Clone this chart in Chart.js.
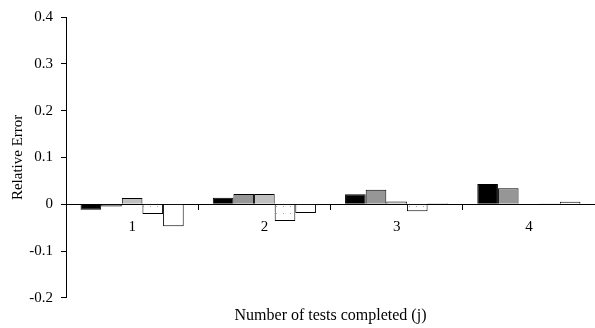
<!DOCTYPE html>
<html>
<head>
<meta charset="utf-8">
<script src="https://cdn.jsdelivr.net/npm/chart.js@4/dist/chart.umd.min.js"></script>
<style>
  html, body { margin: 0; padding: 0; background: #fff; }
  #wrap { width: 595px; height: 328px; position: relative; }
</style>
</head>
<body>
<div id="wrap"><canvas id="chart"></canvas></div>
<script>
// Number of tests completed (j)
const categories = ['1', '2', '3', '4'];

// Relative error of each estimator after j tests
const seriesBlack     = [-0.012, 0.014, 0.021, 0.043];
const seriesDarkGrey  = [-0.005, 0.022, 0.031, 0.034];
const seriesLightGrey = [0.013, 0.022, 0.006, 0.001];
const seriesDotted    = [-0.021, -0.036, -0.015, 0.0005];
const seriesWhite     = [-0.047, -0.019, 0.002, 0.005];

const seriesNames = ['Series 1', 'Series 2', 'Series 3', 'Series 4', 'Series 5'];

// Y axis tick values
const yTicks = [-0.2, -0.1, 0, 0.1, 0.2, 0.3, 0.4];

// Sparse grey dot fill for the fourth series
function dottedPattern() {
  const c = document.createElement('canvas');
  c.width = 7; c.height = 7;
  const g = c.getContext('2d');
  g.fillStyle = '#ffffff';
  g.fillRect(0, 0, 7, 7);
  g.fillStyle = '#a8a8a8';
  g.fillRect(3, 3, 1, 1);
  return g.createPattern(c, 'repeat');
}

const serif = "'Liberation Serif', 'Times New Roman', serif";
const ctx = document.getElementById('chart').getContext('2d');

const fills = ['#000000', '#969696', '#c0c0c0', dottedPattern(), '#ffffff'];
const values = [seriesBlack, seriesDarkGrey, seriesLightGrey, seriesDotted, seriesWhite];

new Chart(ctx, {
  type: 'bar',
  data: {
    labels: categories,
    datasets: values.map((v, i) => ({
      label: seriesNames[i],
      data: v,
      backgroundColor: fills[i],
      borderColor: '#000000',
      borderWidth: 1,
      borderSkipped: 'start',
      categoryPercentage: 0.78,
      barPercentage: 1.0,
      xAxisID: 'x',
      yAxisID: 'y'
    }))
  },
  options: {
    responsive: true,
    maintainAspectRatio: false,
    animation: false,
    layout: { padding: { top: 16, right: 0, bottom: 0, left: 0 } },
    plugins: {
      legend: { display: false },
      tooltip: { enabled: false },
      title: { display: false }
    },
    scales: {
      x: {
        type: 'category',
        position: { y: 0 },
        grid: {
          display: true,
          offset: true,
          drawOnChartArea: false,
          drawTicks: true,
          tickLength: 5,
          color: '#000000',
          lineWidth: 1
        },
        border: { display: true, color: '#000000', width: 1 },
        ticks: {
          color: '#000000',
          padding: 9,
          font: { family: serif, size: 15 }
        }
      },
      x2: {
        type: 'category',
        labels: categories,
        position: 'bottom',
        grid: { display: false, drawTicks: false },
        border: { display: false },
        ticks: { display: false },
        title: {
          display: true,
          text: 'Number of tests completed (j)',
          color: '#000000',
          font: { family: serif, size: 16 },
          padding: { top: 8, bottom: 3 }
        }
      },
      y: {
        min: -0.2,
        max: 0.4,
        position: 'left',
        afterFit: (scale) => { scale.width = 66; },
        afterBuildTicks: (scale) => { scale.ticks = yTicks.map(v => ({ value: v })); },
        grid: {
          display: true,
          drawOnChartArea: false,
          drawTicks: true,
          tickLength: 5,
          color: '#000000',
          lineWidth: 1
        },
        border: { display: true, color: '#000000', width: 1 },
        ticks: {
          color: '#000000',
          padding: 8,
          font: { family: serif, size: 15 },
          callback: (v) => String(Number(Number(v).toFixed(1)))
        },
        title: {
          display: true,
          text: 'Relative Error',
          color: '#000000',
          font: { family: serif, size: 15 },
          padding: { top: 9, bottom: 0 }
        }
      }
    }
  }
});
</script>
</body>
</html>
